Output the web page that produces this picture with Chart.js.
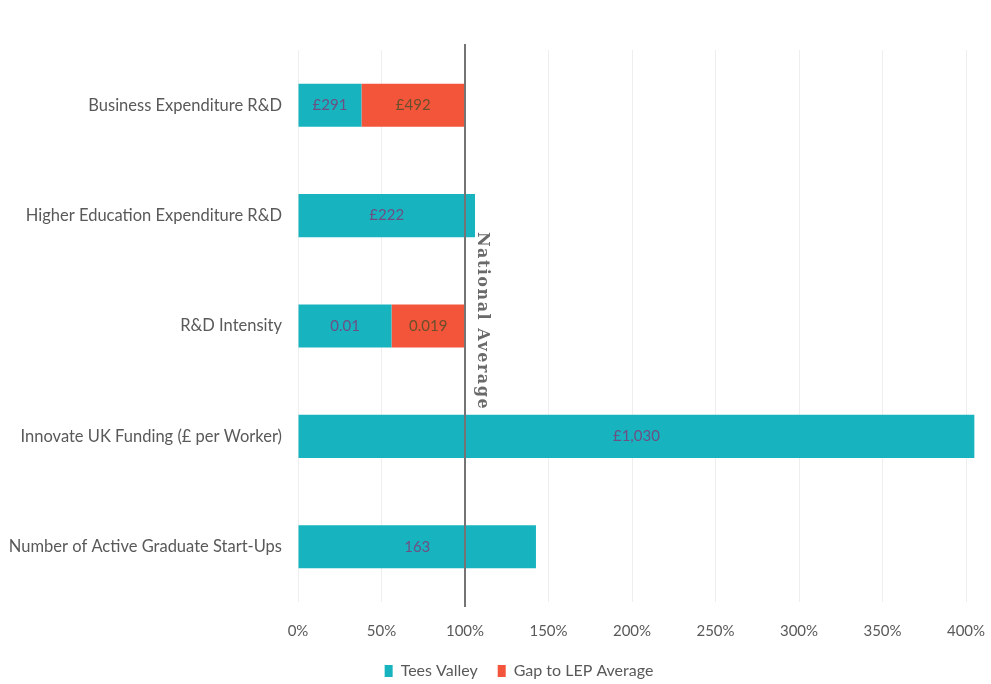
<!DOCTYPE html>
<html>
<head>
<meta charset="utf-8">
<script src="https://cdn.jsdelivr.net/npm/chart.js@4/dist/chart.umd.min.js"></script>
<style>
  html, body { margin: 0; padding: 0; background: #fff; }
  #wrap { width: 991px; height: 684px; }
</style>
</head>
<body>
<div id="wrap"><canvas id="chart" width="991" height="684"></canvas></div>
<script>
"use strict";

// indicators, as % of the national average
const categories = [
  'Business Expenditure R&D',
  'Higher Education Expenditure R&D',
  'R&D Intensity',
  'Innovate UK Funding (£ per Worker)',
  'Number of Active Graduate Start-Ups',
];
const teesValley = [38, 106, 56, 405, 142.5];
const gapToLep = [62, 0, 44, 0, 0];

// figures printed on the segments
const teesLabels = ['£291', '£222', '0.01', '£1,030', '163'];
const gapLabels = ['£492', '', '0.019', '', ''];

const xTicks = [0, 50, 100, 150, 200, 250, 300, 350, 400];
const nationalAverage = 100;

const TEAL = '#17b4c0';
const RED = '#f3553a';
const GREY = '#595959';
const FONT = 'Lato, "Open Sans", sans-serif';

// text on each bar segment
const segmentLabels = {
  id: 'segmentLabels',
  afterDatasetsDraw(chart) {
    const ctx = chart.ctx;
    const texts = [teesLabels, gapLabels];
    const colors = ['#6e4f82', '#6b4f2c'];
    ctx.save();
    ctx.font = '15px ' + FONT;
    ctx.textAlign = 'center';
    ctx.textBaseline = 'middle';
    chart.data.datasets.forEach((ds, di) => {
      chart.getDatasetMeta(di).data.forEach((bar, i) => {
        const t = texts[di][i];
        if (!t) return;
        ctx.fillStyle = colors[di];
        ctx.fillText(t, (bar.x + bar.base) / 2, bar.y);
      });
    });
    ctx.restore();
  },
};

// vertical reference line at 100% with its caption
const nationalLine = {
  id: 'nationalLine',
  afterDatasetsDraw(chart) {
    const {ctx, chartArea: a, scales: {x}} = chart;
    const px = Math.round(x.getPixelForValue(nationalAverage));
    ctx.save();
    ctx.strokeStyle = '#747474';
    ctx.lineWidth = 2;
    ctx.beginPath();
    ctx.moveTo(px, a.top - 6);
    ctx.lineTo(px, a.bottom + 5);
    ctx.stroke();

    ctx.translate(px + 17, (a.top + a.bottom) / 2 - 5);
    ctx.rotate(Math.PI / 2);
    ctx.font = 'bold 16px "DejaVu Serif", "Liberation Serif", serif';
    ctx.letterSpacing = '1.5px';
    ctx.fillStyle = '#6a6a6a';
    ctx.textAlign = 'center';
    ctx.textBaseline = 'middle';
    ctx.fillText('National Average', 0, 0);
    ctx.restore();
  },
};

// nudge the legend a little to the right of centre
const legendShift = {
  id: 'legendShift',
  afterLayout(chart) {
    chart.legend.left += 36;
    chart.legend.right += 36;
  },
};

new Chart(document.getElementById('chart').getContext('2d'), {
  type: 'bar',
  data: {
    labels: categories,
    datasets: [
      {
        label: 'Tees Valley',
        data: teesValley,
        backgroundColor: TEAL,
        borderWidth: 0,
        clip: false,
      },
      {
        label: 'Gap to LEP Average',
        data: gapToLep,
        backgroundColor: RED,
        borderWidth: 0,
        clip: false,
      },
    ],
  },
  options: {
    indexAxis: 'y',
    responsive: false,
    animation: false,
    categoryPercentage: 1,
    barPercentage: 0.39,
    layout: {
      padding: {top: 50, right: 25, left: 0, bottom: -5},
    },
    scales: {
      x: {
        stacked: true,
        min: 0,
        max: 400,
        afterBuildTicks: axis => { axis.ticks = xTicks.map(v => ({value: v})); },
        afterFit: axis => {
          axis.height = 41;
          axis.paddingLeft = 0;
          axis.paddingRight = 0;
        },
        grid: {color: '#eeeeee', drawTicks: false},
        border: {display: false},
        ticks: {
          padding: 20,
          color: GREY,
          font: {family: FONT, size: 15},
          callback: v => v + '%',
        },
      },
      y: {
        stacked: true,
        afterFit: axis => { axis.width = 298; },
        grid: {display: false},
        border: {display: false},
        ticks: {
          padding: 8,
          color: GREY,
          font: {family: FONT, size: 16.5},
        },
      },
    },
    plugins: {
      legend: {
        position: 'bottom',
        labels: {
          boxWidth: 8,
          boxHeight: 12,
          padding: 20,
          color: GREY,
          font: {family: FONT, size: 16},
        },
      },
      tooltip: {enabled: false},
    },
  },
  plugins: [segmentLabels, nationalLine, legendShift],
});
</script>
</body>
</html>
